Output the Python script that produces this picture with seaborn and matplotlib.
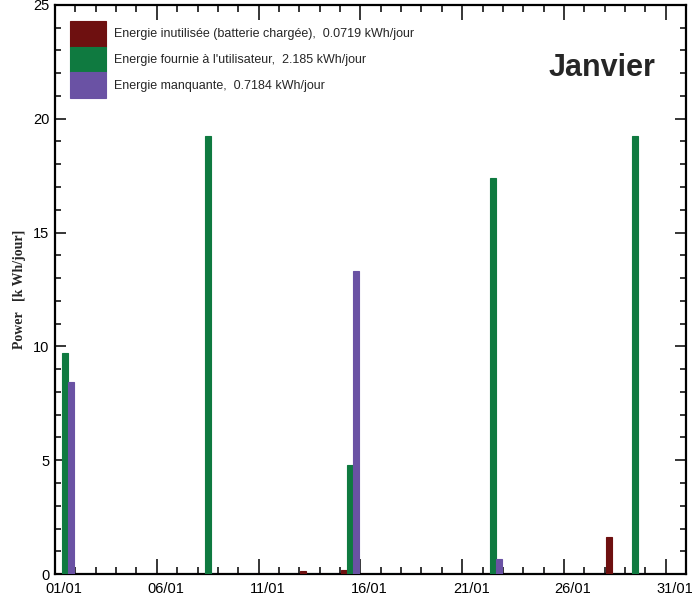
import numpy as np
import pandas as pd
import matplotlib
matplotlib.use("Agg")
import matplotlib.pyplot as plt
from matplotlib.ticker import FixedLocator
from matplotlib.transforms import ScaledTranslation
import seaborn as sns

sns.set_style("white")
plt.rcParams['font.family'] = ['Liberation Sans', 'DejaVu Sans']

# daily energy (kWh) for January
days = [f"{d:02d}/01" for d in range(1, 32)]
unused = [0] * 31
unused[12] = 0.13
unused[14] = 0.18
unused[27] = 1.63
supplied = [0] * 31
supplied[0] = 9.7
supplied[7] = 19.25
supplied[14] = 4.77
supplied[21] = 17.4
supplied[28] = 19.25
missing = [0] * 31
missing[0] = 8.45
missing[14] = 13.3
missing[21] = 0.66

series = ["Energie inutilisée (batterie chargée),  0.0719 kWh/jour",
          "Energie fournie à l'utilisateur,  2.185 kWh/jour",
          "Energie manquante,  0.7184 kWh/jour"]
colors = ["#6e1010", "#0f7a40", "#6a52a4"]
tick_days = ["01/01", "06/01", "11/01", "16/01", "21/01", "26/01", "31/01"]
y_ticks = [0, 5, 10, 15, 20, 25]

df = pd.DataFrame({
    "day": days * 3,
    "serie": np.repeat(series, 31),
    "value": unused + supplied + missing,
})

fig = plt.figure(figsize=(6.92, 5.98), dpi=100)
ax = fig.add_axes([0.0795, 0.040, 0.912, 0.952])

sns.barplot(data=df, x="day", y="value", hue="serie", hue_order=series,
            palette=colors, width=0.9, order=days, ax=ax, saturation=1,
            linewidth=0.8, errorbar=None)
for patch in ax.patches:
    patch.set_edgecolor(patch.get_facecolor())
    patch.set_zorder(3)

ax.set_xlim(-0.5, 30.5)
ax.set_ylim(0, 25)

# day boundaries as ticks, labels shifted towards the day centre
ax.xaxis.set_major_locator(FixedLocator([-0.5 + 5 * i for i in range(7)]))
ax.xaxis.set_minor_locator(FixedLocator([-0.5 + i for i in range(32)]))
ax.set_xticklabels(tick_days)
ax.set_yticks(y_ticks)
ax.set_yticklabels([str(v) for v in y_ticks])
ax.yaxis.set_minor_locator(FixedLocator(range(0, 26)))

ax.tick_params(which="both", direction="in", top=True, right=True,
               bottom=True, left=True, width=1.1, colors="black",
               labelsize=10.5)
ax.tick_params(axis="x", which="major", length=11, pad=6)
ax.tick_params(axis="x", which="minor", length=5)
ax.tick_params(axis="y", which="major", length=8, pad=4)
ax.tick_params(axis="y", which="minor", length=4)
offset = ScaledTranslation(0.09, 0, fig.dpi_scale_trans)
for lab in ax.get_xticklabels():
    lab.set_transform(lab.get_transform() + offset)

for sp in ax.spines.values():
    sp.set_linewidth(1.6)
    sp.set_color("black")

ax.set_xlabel("")
ax.set_ylabel("Power   [k Wh/jour]", family="Liberation Serif", fontsize=10,
              fontweight="bold", labelpad=5)

ax.text(0.952, 0.889, "Janvier", transform=ax.transAxes, ha="right",
        va="center", fontsize=22, fontweight="bold", family="Liberation Sans")

ax.legend(loc="upper left", bbox_to_anchor=(0.024, 0.972), frameon=False,
          fontsize=9, handlelength=2.9, handleheight=2.8, labelspacing=0,
          handletextpad=0.6, borderpad=0, borderaxespad=0)

fig.savefig("out.png", dpi=100)
